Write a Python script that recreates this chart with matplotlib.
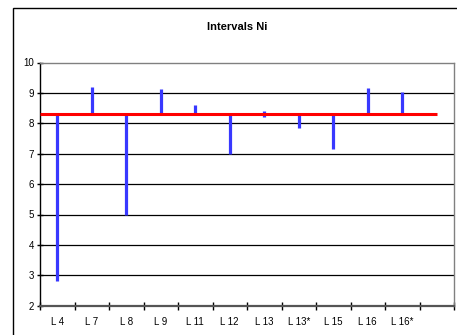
import matplotlib.pyplot as plt
import numpy as np
from matplotlib.patches import Rectangle

# data
labels = ['L 4', 'L 7', 'L 8', 'L 9', 'L 11', 'L 12', 'L 13', 'L 13*', 'L 15', 'L 16', 'L 16*', '']
low = [2.82, 8.3, 5.0, 8.3, 8.3, 7.0, 8.22, 7.86, 7.17, 8.3, 8.3, np.nan]
high = [8.3, 9.18, 8.3, 9.13, 8.6, 8.3, 8.41, 8.3, 8.3, 9.16, 9.03, np.nan]
ref_value = 8.3

plt.rcParams['font.family'] = ['Liberation Sans', 'DejaVu Sans']

fig = plt.figure(figsize=(4.57, 3.35), dpi=100)
W, H = 457, 335
ax = fig.add_axes([40 / W, (H - 305.7) / H, 414 / W, 243.2 / H])

# outer chart frame
fig.patches.append(Rectangle((13 / W, -0.1), 1.2, (H - 8) / H + 0.1, transform=fig.transFigure,
                             fill=False, edgecolor='black', linewidth=1.0))

x = np.arange(len(labels))
ax.set_xlim(-0.5, len(labels) - 0.5)
ax.set_ylim(2, 10)

# gridlines
for yv in range(3, 10):
    ax.axhline(yv, color='black', linewidth=0.9, zorder=1)

# intervals
ax.vlines(x, low, high, color='#3838ff', linewidth=2.3, zorder=3)

# reference line
ax.plot([-0.5, len(labels) - 1], [ref_value, ref_value], color='#ff0000', linewidth=2.2, zorder=4,
        solid_capstyle='butt')

ax.set_xticks(np.arange(-0.5, len(labels), 1.0))
ax.set_xticklabels([])
ax.set_xticks(x, minor=True)
ax.set_xticklabels(labels, minor=True, fontsize=7)
ax.tick_params(axis='x', which='major', direction='inout', length=6, width=1.0)
ax.tick_params(axis='x', which='minor', length=0, pad=8)
ax.set_yticks(range(2, 11))
ax.tick_params(axis='y', direction='inout', length=5, width=1.0, labelsize=7, pad=2)

for s in ['top', 'right']:
    ax.spines[s].set_color('#808080')
    ax.spines[s].set_linewidth(1.0)
ax.spines['left'].set_linewidth(1.0)
ax.spines['bottom'].set_linewidth(1.6)
ax.spines['bottom'].set_color('#555555')

fig.text(237 / W, 1 - 27 / H, 'Intervals Ni', ha='center', va='center', fontsize=8, fontweight='bold')

plt.savefig('out.png', dpi=100)
